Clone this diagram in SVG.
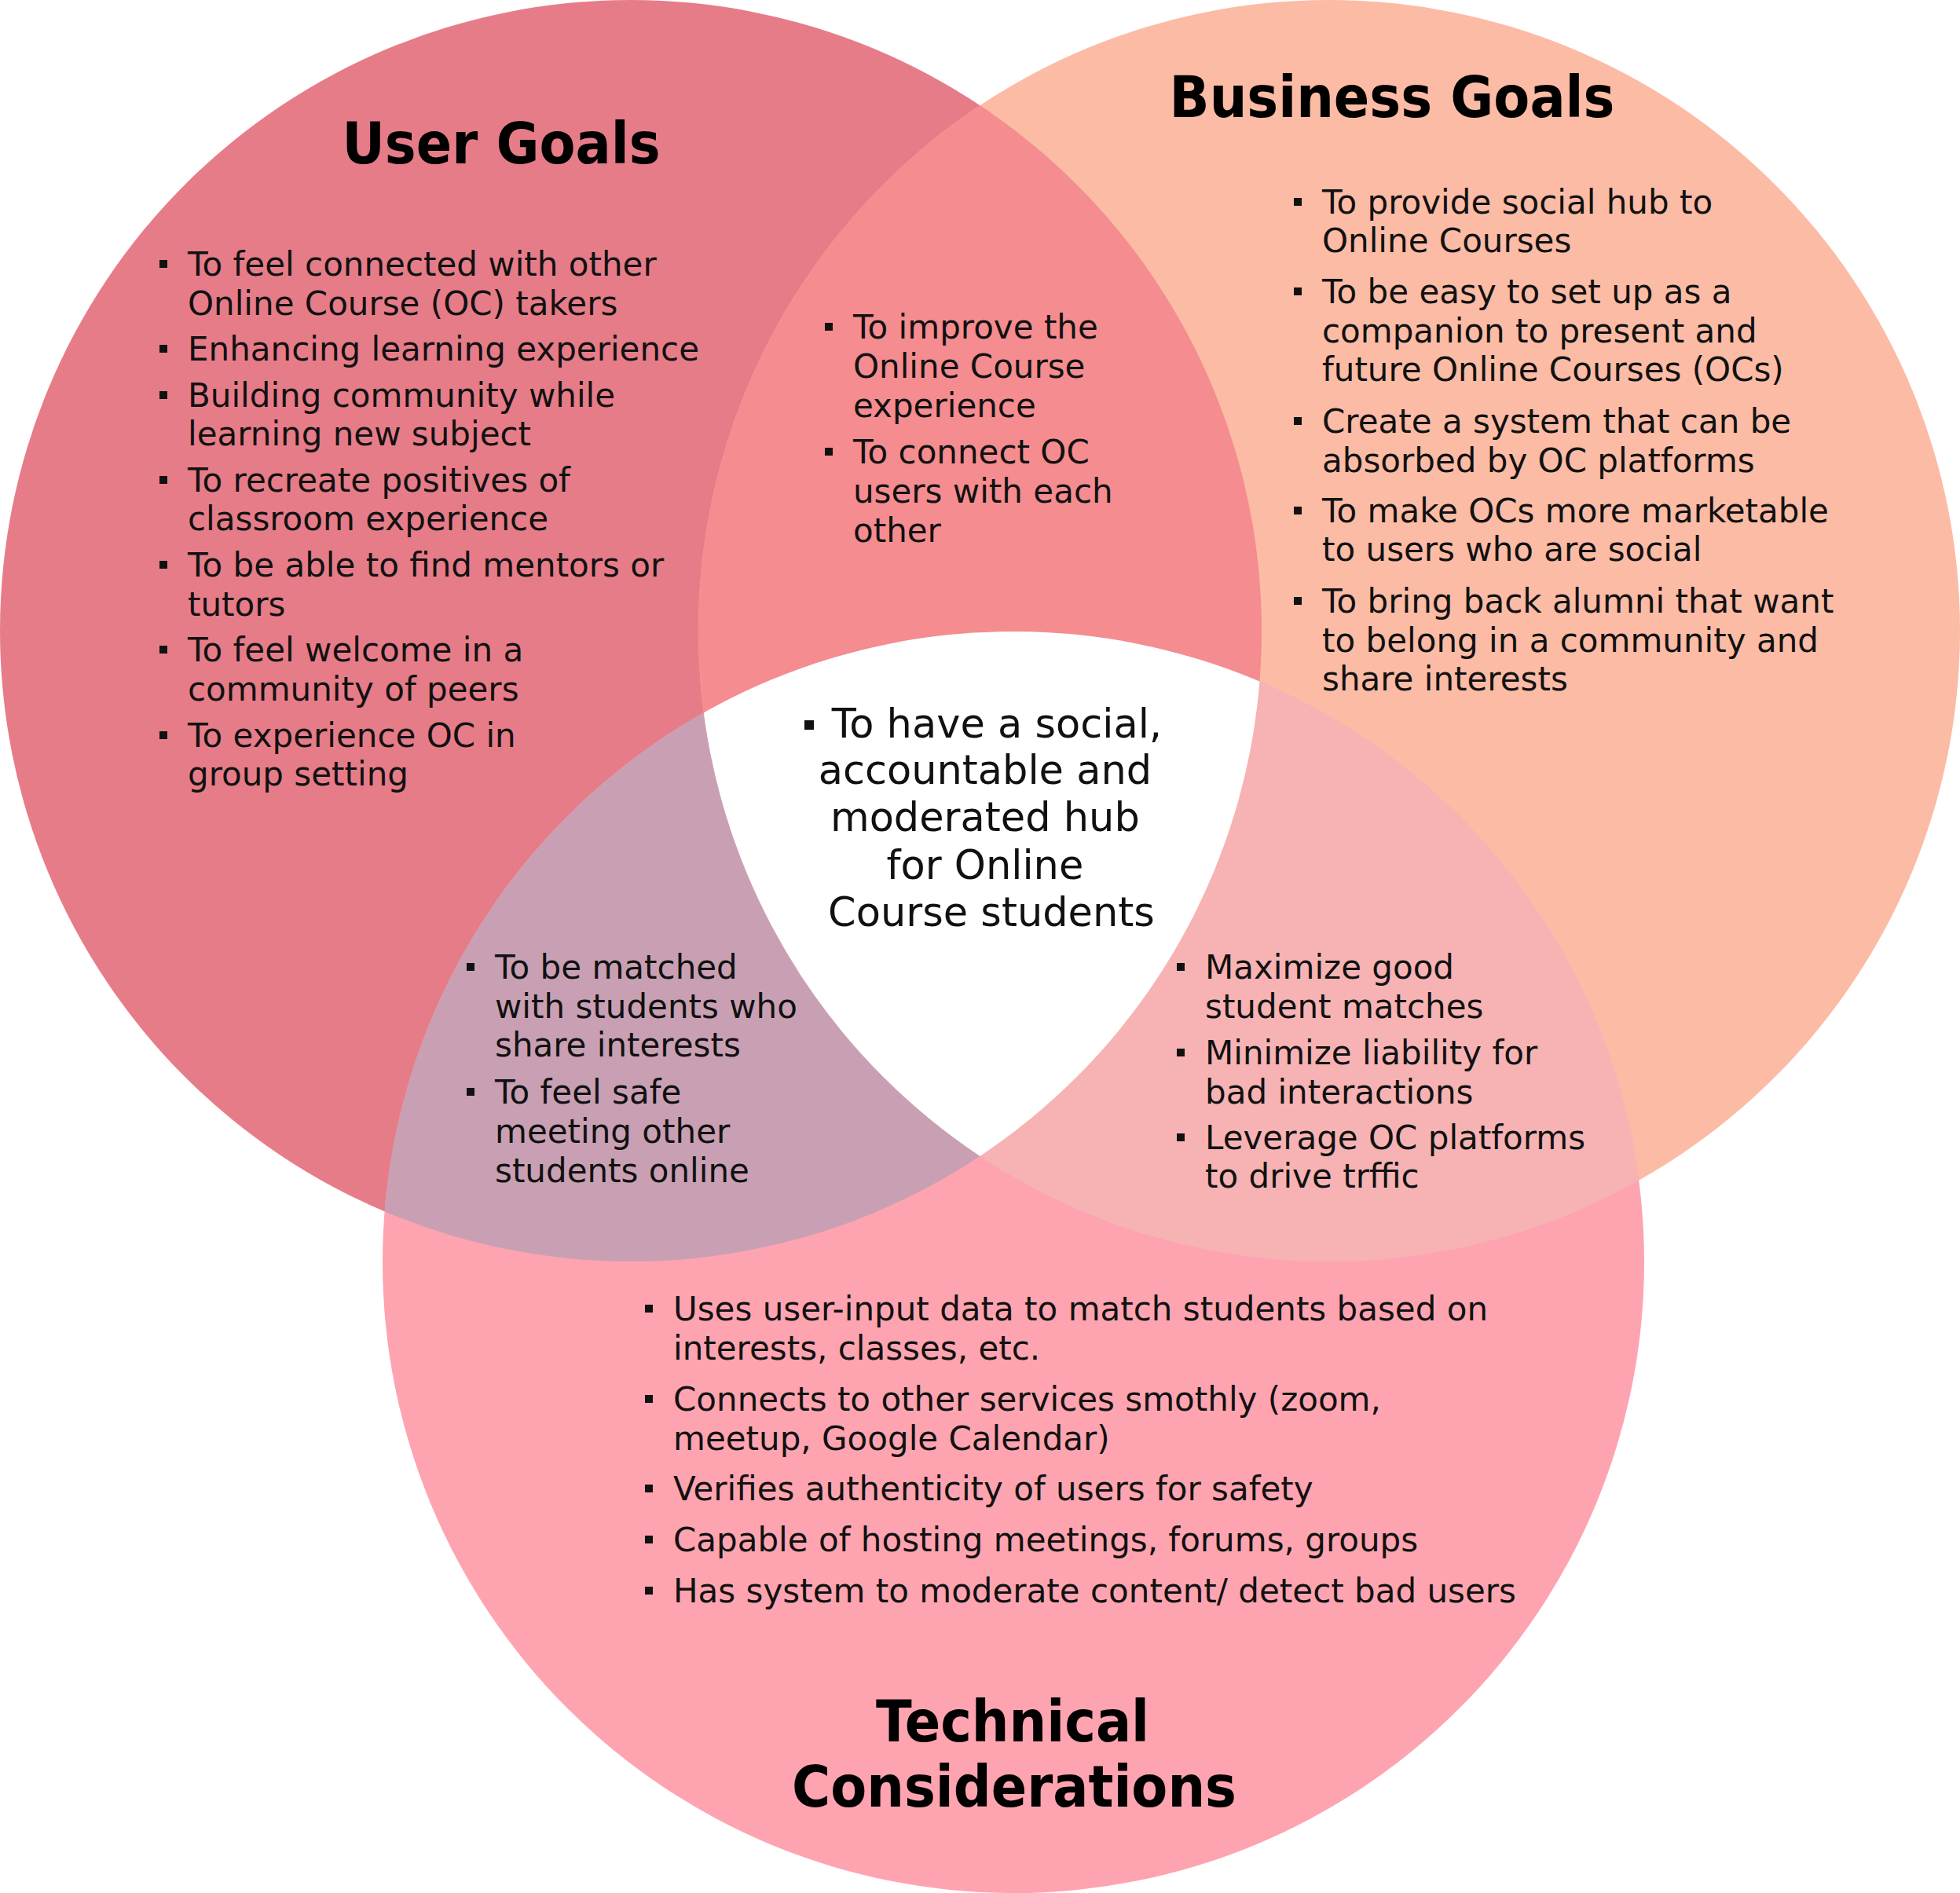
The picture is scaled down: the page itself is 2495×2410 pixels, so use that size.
<svg xmlns="http://www.w3.org/2000/svg" xmlns:xlink="http://www.w3.org/1999/xlink" width="2495" height="2410" viewBox="0 0 2495 2410">
<style>
.t{font-family:"DejaVu Sans","Liberation Sans",sans-serif;font-size:42px;fill:#111}
.c{font-family:"DejaVu Sans","Liberation Sans",sans-serif;font-size:51px;fill:#111;text-anchor:middle}
.h{font-family:"DejaVu Sans","Liberation Sans",sans-serif;font-size:67px;font-weight:bold;fill:#000;text-anchor:middle}
.b{fill:#111}
</style>
<defs>
<circle id="cu" cx="803" cy="803" r="803"/>
<circle id="cb" cx="1692" cy="803" r="803"/>
<circle id="ct" cx="1290" cy="1607" r="803"/>
<clipPath id="clipU"><use xlink:href="#cu"/></clipPath>
<clipPath id="clipB"><use xlink:href="#cb"/></clipPath>
<rect id="bl" width="10" height="10"/>
</defs>
<rect width="2495" height="2410" fill="#fff"/>

<g id="circles">
<use xlink:href="#cu" fill="#E77C89"/>
<use xlink:href="#cb" fill="#FCBBA5"/>
<use xlink:href="#ct" fill="#FEA4B0"/>
<use xlink:href="#cb" fill="#F58C90" clip-path="url(#clipU)"/>
<use xlink:href="#ct" fill="#C9A0B3" clip-path="url(#clipU)"/>
<use xlink:href="#ct" fill="#F7B3B4" clip-path="url(#clipB)"/>
<g clip-path="url(#clipB)"><use xlink:href="#ct" fill="#FFFFFF" clip-path="url(#clipU)"/></g>
</g>

<g id="user-goals">
<text class="h" transform="translate(638,208) scale(1,1.08)" x="0" y="0">User Goals</text>
<g class="b">
<use xlink:href="#bl" x="203" y="331"/><use xlink:href="#bl" x="203" y="439"/><use xlink:href="#bl" x="203" y="498"/><use xlink:href="#bl" x="203" y="606"/><use xlink:href="#bl" x="203" y="714"/><use xlink:href="#bl" x="203" y="822"/><use xlink:href="#bl" x="203" y="931"/>
</g>
<text class="t">
<tspan x="239" y="351">To feel connected with other</tspan>
<tspan x="239" y="401">Online Course (OC) takers</tspan>
<tspan x="239" y="459">Enhancing learning experience</tspan>
<tspan x="239" y="518">Building community while</tspan>
<tspan x="239" y="567">learning new subject</tspan>
<tspan x="239" y="626">To recreate positives of</tspan>
<tspan x="239" y="675">classroom experience</tspan>
<tspan x="239" y="734">To be able to find mentors or</tspan>
<tspan x="239" y="784">tutors</tspan>
<tspan x="239" y="842">To feel welcome in a</tspan>
<tspan x="239" y="892">community of peers</tspan>
<tspan x="239" y="951">To experience OC in</tspan>
<tspan x="239" y="1000">group setting</tspan>
</text>
</g>

<g id="business-goals">
<text class="h" transform="translate(1772,149) scale(1,1.08)" x="0" y="0">Business Goals</text>
<g class="b">
<use xlink:href="#bl" x="1647" y="252"/><use xlink:href="#bl" x="1647" y="366"/><use xlink:href="#bl" x="1647" y="531"/><use xlink:href="#bl" x="1647" y="645"/><use xlink:href="#bl" x="1647" y="760"/>
</g>
<text class="t">
<tspan x="1683" y="272">To provide social hub to</tspan>
<tspan x="1683" y="321">Online Courses</tspan>
<tspan x="1683" y="386">To be easy to set up as a</tspan>
<tspan x="1683" y="436">companion to present and</tspan>
<tspan x="1683" y="485">future Online Courses (OCs)</tspan>
<tspan x="1683" y="551">Create a system that can be</tspan>
<tspan x="1683" y="601">absorbed by OC platforms</tspan>
<tspan x="1683" y="665">To make OCs more marketable</tspan>
<tspan x="1683" y="714">to users who are social</tspan>
<tspan x="1683" y="780">To bring back alumni that want</tspan>
<tspan x="1683" y="830">to belong in a community and</tspan>
<tspan x="1683" y="879">share interests</tspan>
</text>
</g>

<g id="technical-considerations">
<text class="h" transform="translate(1289,2217) scale(1,1.08)" x="0" y="0">Technical</text>
<text class="h" transform="translate(1291,2300) scale(1,1.08)" x="0" y="0">Considerations</text>
<g class="b">
<use xlink:href="#bl" x="821" y="1661"/><use xlink:href="#bl" x="821" y="1776"/><use xlink:href="#bl" x="821" y="1890"/><use xlink:href="#bl" x="821" y="1955"/><use xlink:href="#bl" x="821" y="2020"/>
</g>
<text class="t">
<tspan x="857" y="1681">Uses user-input data to match students based on</tspan>
<tspan x="857" y="1731">interests, classes, etc.</tspan>
<tspan x="857" y="1796">Connects to other services smothly (zoom,</tspan>
<tspan x="857" y="1846">meetup, Google Calendar)</tspan>
<tspan x="857" y="1910">Verifies authenticity of users for safety</tspan>
<tspan x="857" y="1975">Capable of hosting meetings, forums, groups</tspan>
<tspan x="857" y="2040">Has system to moderate content/ detect bad users</tspan>
</text>
</g>

<g id="user-business">
<g class="b"><use xlink:href="#bl" x="1050" y="411"/><use xlink:href="#bl" x="1050" y="570"/></g>
<text class="t">
<tspan x="1086" y="431">To improve the</tspan>
<tspan x="1086" y="481">Online Course</tspan>
<tspan x="1086" y="531">experience</tspan>
<tspan x="1086" y="590">To connect OC</tspan>
<tspan x="1086" y="640">users with each</tspan>
<tspan x="1086" y="690">other</tspan>
</text>
</g>

<g id="user-technical">
<g class="b"><use xlink:href="#bl" x="594" y="1226"/><use xlink:href="#bl" x="594" y="1385"/></g>
<text class="t">
<tspan x="630" y="1246">To be matched</tspan>
<tspan x="630" y="1296">with students who</tspan>
<tspan x="630" y="1345">share interests</tspan>
<tspan x="630" y="1405">To feel safe</tspan>
<tspan x="630" y="1455">meeting other</tspan>
<tspan x="630" y="1505">students online</tspan>
</text>
</g>

<g id="business-technical">
<g class="b"><use xlink:href="#bl" x="1498" y="1226"/><use xlink:href="#bl" x="1498" y="1335"/><use xlink:href="#bl" x="1498" y="1443"/></g>
<text class="t">
<tspan x="1534" y="1246">Maximize good</tspan>
<tspan x="1534" y="1296">student matches</tspan>
<tspan x="1534" y="1355">Minimize liability for</tspan>
<tspan x="1534" y="1405">bad interactions</tspan>
<tspan x="1534" y="1463">Leverage OC platforms</tspan>
<tspan x="1534" y="1512">to drive trffic</tspan>
</text>
</g>

<g id="center">
<rect class="b" x="1024" y="917" width="12" height="12"/>
<text class="c">
<tspan x="1277" y="939">To have a social,</tspan>
<tspan x="1262" y="998">accountable and</tspan>
<tspan x="1262" y="1058">moderated hub</tspan>
<tspan x="1262" y="1119">for Online</tspan>
<tspan x="1262" y="1179">Course students</tspan>
</text>
</g>
</svg>
